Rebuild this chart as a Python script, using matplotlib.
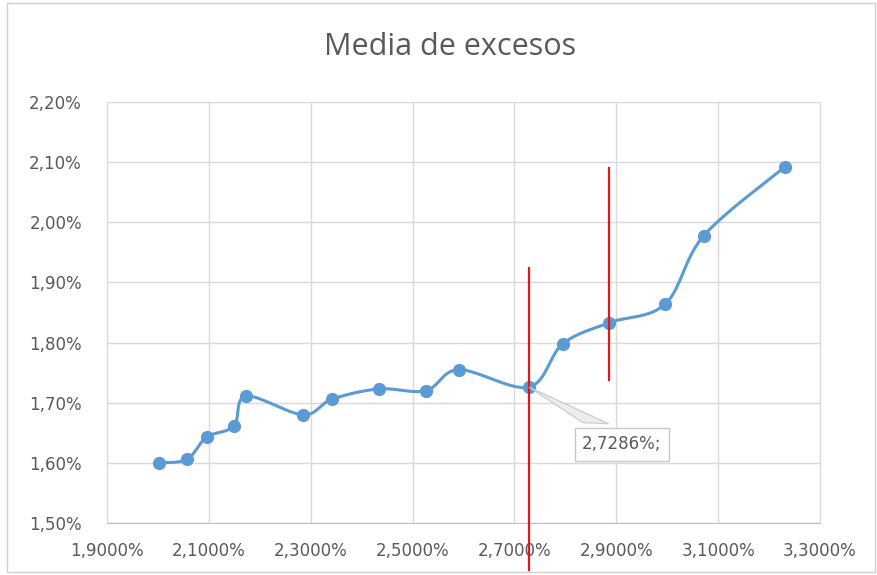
import numpy as np
import matplotlib.pyplot as plt
from matplotlib.patches import Polygon
from matplotlib.ticker import FuncFormatter, FixedLocator

# series (values in %)
umbral = [2.002, 2.057, 2.096, 2.149, 2.173, 2.285, 2.342, 2.434, 2.526, 2.591,
          2.7286, 2.795, 2.886, 2.996, 3.072, 3.231]
media_exceso = [1.600, 1.606, 1.643, 1.661, 1.711, 1.680, 1.706, 1.723, 1.720, 1.755,
                1.726, 1.798, 1.833, 1.864, 1.978, 2.092]

x_ticks = [1.9, 2.1, 2.3, 2.5, 2.7, 2.9, 3.1, 3.3]
y_ticks = [1.5, 1.6, 1.7, 1.8, 1.9, 2.0, 2.1, 2.2]

# red vertical markers: x, y bottom, y top
marcas_x = [2.7286, 2.886]
marcas_y0 = [1.422, 1.738]
marcas_y1 = [1.924, 2.091]

etiqueta = "2,7286%;"

AZUL = "#5B9BD5"
GRIS = "#595959"
REJILLA = "#D9D9D9"
NUM_FONT = ["DejaVu Sans"]


def catmull_rom(x, y, n=20):
    # smoothed line like Excel's "smoothed line" option
    pts = np.column_stack([x, y])
    pts = np.vstack([pts[0], pts, pts[-1]])
    out = []
    for i in range(1, len(pts) - 2):
        p0, p1, p2, p3 = pts[i - 1], pts[i], pts[i + 1], pts[i + 2]
        t = np.linspace(0, 1, n, endpoint=False)[:, None]
        seg = 0.5 * ((2 * p1) + (-p0 + p2) * t
                     + (2 * p0 - 5 * p1 + 4 * p2 - p3) * t ** 2
                     + (-p0 + 3 * p1 - 3 * p2 + p3) * t ** 3)
        out.append(seg)
    out.append(pts[-2][None, :])
    out = np.vstack(out)
    return out[:, 0], out[:, 1]


def coma(fmt):
    return FuncFormatter(lambda v, _: (fmt % v).replace(".", ",") + "%")


plt.rcParams["font.family"] = ["Open Sans", "DejaVu Sans"]

fig = plt.figure(figsize=(8.77, 5.75), dpi=100)
fig.patches.append(plt.Rectangle((0.008, 0.005), 0.99, 0.99, transform=fig.transFigure,
                                 fill=False, edgecolor="#D0D0D0", lw=1))
ax = fig.add_axes([0.122, 0.0904, 0.813, 0.7322])

sx, sy = catmull_rom(umbral, media_exceso)
ax.plot(sx, sy, color=AZUL, lw=2.2, zorder=3)
ax.plot(umbral, media_exceso, "o", color=AZUL, ms=8.5, zorder=4)

for x, y0, y1 in zip(marcas_x, marcas_y0, marcas_y1):
    ax.plot([x, x], [y0, y1], color="#E8131B", lw=1.6, zorder=5, clip_on=False)

ax.set_xlim(x_ticks[0], x_ticks[-1])
ax.set_ylim(y_ticks[0], y_ticks[-1])
ax.xaxis.set_major_locator(FixedLocator(x_ticks))
ax.yaxis.set_major_locator(FixedLocator(y_ticks))
ax.xaxis.set_major_formatter(coma("%.4f"))
ax.yaxis.set_major_formatter(coma("%.2f"))
ax.grid(True, color=REJILLA, lw=1)
ax.set_axisbelow(True)
for s in ax.spines.values():
    s.set_color(REJILLA)
ax.spines["bottom"].set_color("#BFBFBF")
ax.tick_params(length=0, colors=GRIS, labelsize=12)
ax.tick_params(axis="x", pad=14)
ax.tick_params(axis="y", pad=18)
for lbl in ax.get_xticklabels() + ax.get_yticklabels():
    lbl.set_family(NUM_FONT)

# data label with leader
i = umbral.index(2.7286)
px, py = umbral[i], media_exceso[i]
bx, by = 2.911, 1.631
ax.add_patch(Polygon([[px, py], [2.834, 1.667], [2.885, 1.665]], closed=True,
                     facecolor="#EDEDED", edgecolor="#C8C8C8", lw=0.8, zorder=6))
ax.text(bx, by, etiqueta, ha="center", va="center", fontsize=12, color=GRIS, zorder=7,
        family=NUM_FONT,
        bbox=dict(boxstyle="square,pad=0.45", facecolor="white", edgecolor="#C8C8C8", lw=1))

fig.text(0.513, 0.918, "Media de excesos", ha="center", va="center", fontsize=22, color=GRIS)

fig.savefig("out.png", dpi=100)
